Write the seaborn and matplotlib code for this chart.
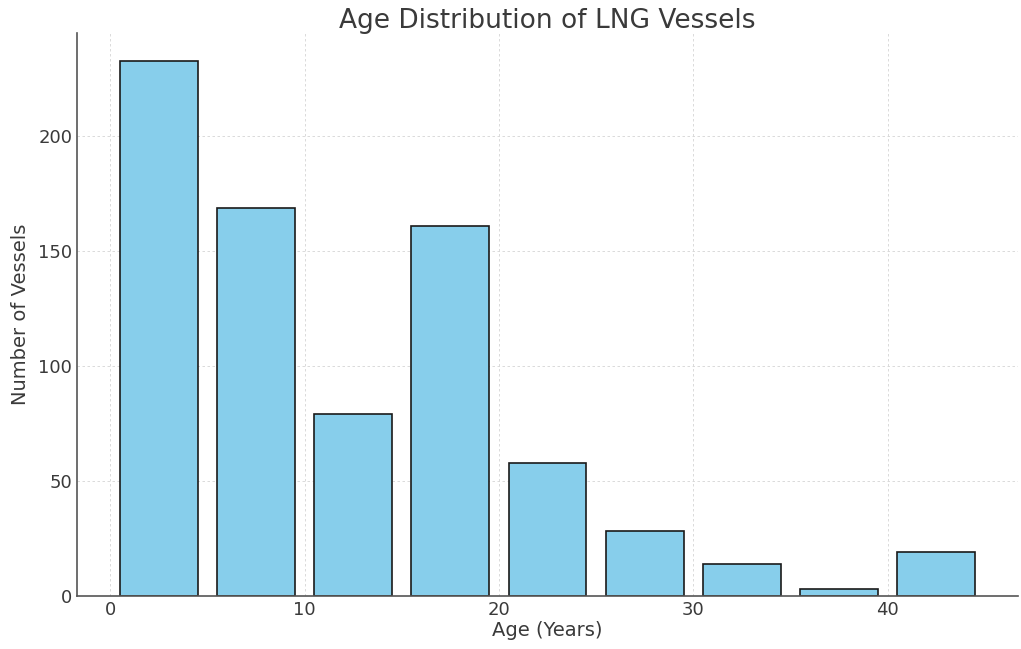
import matplotlib
matplotlib.use('Agg')
import matplotlib.pyplot as plt
import seaborn as sns
import numpy as np

# Data (5-year age bins)
bin_edges = [0, 5, 10, 15, 20, 25, 30, 35, 40, 45]
bin_centers = [2.5, 7.5, 12.5, 17.5, 22.5, 27.5, 32.5, 37.5, 42.5]
vessel_counts = [233, 169, 79, 161, 58, 28, 14, 3, 19]

sns.set_style('white')
plt.rcParams['font.family'] = ['DejaVu Sans']
plt.rcParams['text.color'] = '#3a3a3a'
plt.rcParams['axes.labelcolor'] = '#3a3a3a'
plt.rcParams['xtick.color'] = '#3a3a3a'
plt.rcParams['ytick.color'] = '#3a3a3a'

fig, ax = plt.subplots(figsize=(10.21, 6.49), dpi=100)
fig.subplots_adjust(left=0.0755, right=0.997, bottom=0.082, top=0.949)

sns.histplot(x=bin_centers, weights=vessel_counts, bins=bin_edges, shrink=0.8,
             color='skyblue', edgecolor='#1a1a1a', linewidth=1.2, alpha=1.0, ax=ax)

ax.set_title('Age Distribution of LNG Vessels', fontsize=19, color='#3a3a3a', pad=4)
ax.set_xlabel('Age (Years)', fontsize=14, labelpad=2)
ax.set_ylabel('Number of Vessels', fontsize=14, labelpad=6)
ax.set_xticks([0, 10, 20, 30, 40])
ax.set_yticks([0, 50, 100, 150, 200])
ax.tick_params(direction='in', labelsize=13, length=4, width=1.2)
ax.set_xlim(-1.7, 46.7)
ax.set_ylim(0, 245)

ax.grid(True, linestyle=(0, (3, 3)), color='#d5d5d5', linewidth=0.6)
ax.set_axisbelow(True)
for side in ['top', 'right']:
    ax.spines[side].set_visible(False)
for side in ['left', 'bottom']:
    ax.spines[side].set_color('#555555')
    ax.spines[side].set_linewidth(1.2)

plt.savefig('out.png', dpi=100)
